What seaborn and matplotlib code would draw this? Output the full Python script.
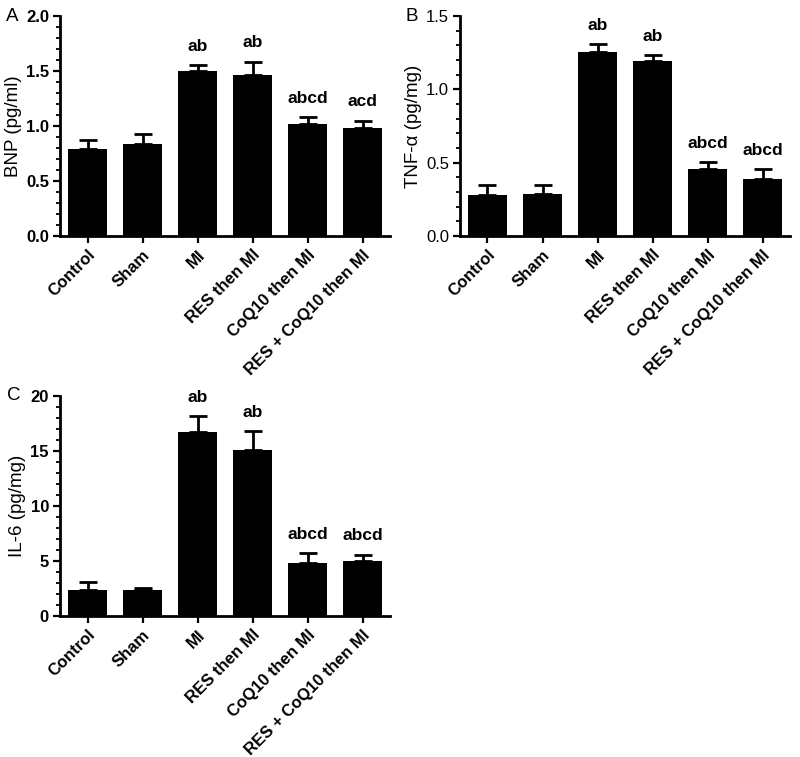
import matplotlib
matplotlib.use("Agg")
import matplotlib.pyplot as plt
import seaborn as sns
import numpy as np
import pandas as pd
from matplotlib.ticker import MultipleLocator

sns.set_style("ticks")
plt.rcParams['font.family'] = ['Liberation Sans', 'DejaVu Sans']
for k in ("text.color", "axes.labelcolor", "xtick.color", "ytick.color", "axes.edgecolor"):
    plt.rcParams[k] = "black"

groups = ["Control", "Sham", "MI", "RES then MI", "CoQ10 then MI", "RES + CoQ10 then MI"]

bnp_mean = [0.79, 0.84, 1.50, 1.46, 1.02, 0.98]
bnp_sem = [0.08, 0.09, 0.055, 0.125, 0.06, 0.07]
bnp_sig = ["", "", "ab", "ab", "abcd", "acd"]

tnf_mean = [0.28, 0.29, 1.255, 1.19, 0.455, 0.39]
tnf_sem = [0.07, 0.06, 0.055, 0.045, 0.05, 0.07]
tnf_sig = ["", "", "ab", "ab", "abcd", "abcd"]

il6_mean = [2.35, 2.35, 16.7, 15.1, 4.85, 5.0]
il6_sem = [0.8, 0.25, 1.5, 1.7, 0.85, 0.6]
il6_sig = ["", "", "ab", "ab", "abcd", "abcd"]

fig = plt.figure(figsize=(8.0, 7.57), dpi=100)

def panel(rect, means, sems, sig, ylabel, ymax, major, minor, fmt, letter, letter_xy,
          tick_bold=True):
    ax = fig.add_axes(rect)
    df = pd.DataFrame({"group": groups, "value": means})
    sns.barplot(data=df, x="group", y="value", color="black", width=0.72,
                errorbar=None, ax=ax, saturation=1, linewidth=0)
    x = np.arange(len(groups))
    ax.errorbar(x, means, yerr=[np.zeros(len(sems)), sems], fmt="none",
                ecolor="black", elinewidth=2, capsize=6.5, capthick=2)
    for xi, m, s, t in zip(x, means, sems, sig):
        if t:
            ax.annotate(t, (xi, m + s), xytext=(0, 8), textcoords="offset points",
                        ha="center", va="bottom", fontsize=12.5, fontweight="bold")
    ax.set_xlim(-0.5, len(groups) - 0.5)
    ax.set_ylim(0, ymax)
    ax.yaxis.set_minor_locator(MultipleLocator(minor))
    ax.set_xlabel("")
    ax.set_ylabel(ylabel, fontsize=13.5, fontweight="normal", labelpad=3)
    sns.despine(ax=ax)
    for sp in ("left", "bottom"):
        ax.spines[sp].set_linewidth(2)
    ax.tick_params(axis="both", which="major", length=5, width=1.6, pad=3)
    ax.tick_params(axis="y", which="minor", length=3, width=1.3)
    ax.set_xticks(x)
    ax.set_xticklabels(groups, rotation=45, ha="right", rotation_mode="anchor",
                       fontweight="bold", fontsize=12)
    ticks = np.arange(0, ymax + 1e-9, major)
    ax.set_yticks(ticks)
    ax.set_yticklabels([fmt.format(t) for t in ticks],
                       fontweight="bold" if tick_bold else "normal", fontsize=12)
    fig.text(letter_xy[0], letter_xy[1], letter, fontsize=13.5, ha="left", va="center")
    return ax

panel([0.075, 0.688, 0.4125, 0.291], bnp_mean, bnp_sem, bnp_sig, "BNP (pg/ml)",
      2.0, 0.5, 0.1, "{:.1f}", "A", (0.007, 0.978), tick_bold=True)
panel([0.575, 0.688, 0.4125, 0.291], tnf_mean, tnf_sem, tnf_sig, "TNF-\u03b1 (pg/mg)",
      1.5, 0.5, 0.1, "{:.1f}", "B", (0.507, 0.978), tick_bold=False)
panel([0.075, 0.186, 0.4125, 0.291], il6_mean, il6_sem, il6_sig, "IL-6 (pg/mg)",
      20, 5, 1, "{:.0f}", "C", (0.009, 0.477), tick_bold=True)

fig.savefig("out.png", dpi=100)
